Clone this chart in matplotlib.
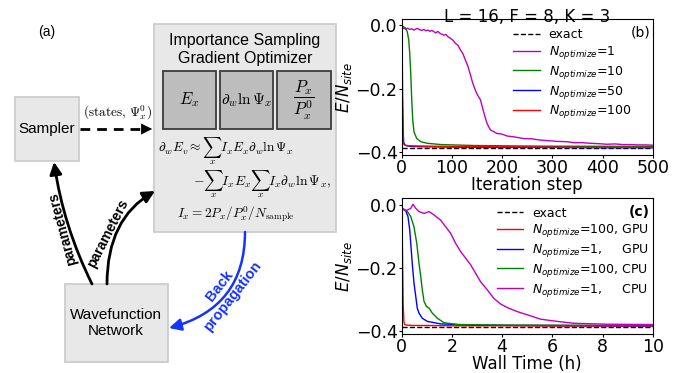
import matplotlib
matplotlib.use('Agg')
import matplotlib.pyplot as plt
from matplotlib.patches import Rectangle, FancyArrowPatch

# ---------------- data ----------------
exact_energy = -0.387

# panel (b): energy vs iteration step
b_iter_n1 = [0, 4, 8, 12, 16, 20, 24, 28, 32, 36, 40, 44, 48, 52, 56, 60, 64, 68, 72, 76, 80, 84, 88,
             92, 97, 102, 107, 112, 117, 122, 127, 132, 137, 141, 144, 148, 151, 154, 157, 160, 164,
             167, 170, 174, 177, 183, 190, 200, 210, 225, 243, 260, 277, 295, 310, 330, 343, 360,
             376, 390, 409, 425, 440, 455, 470, 485, 500]
b_e_n1 = [-0.004, -0.010, -0.012, -0.009, -0.013, -0.011, -0.015, -0.012, -0.010, -0.014, -0.016,
          -0.013, -0.017, -0.015, -0.019, -0.016, -0.020, -0.024, -0.019, -0.025, -0.028, -0.031,
          -0.029, -0.036, -0.041, -0.047, -0.057, -0.063, -0.078, -0.090, -0.110, -0.130, -0.157,
          -0.180, -0.194, -0.210, -0.220, -0.228, -0.236, -0.255, -0.278, -0.295, -0.310, -0.323,
          -0.331, -0.336, -0.342, -0.344, -0.350, -0.353, -0.358, -0.359, -0.363, -0.365, -0.367,
          -0.368, -0.371, -0.371, -0.373, -0.374, -0.376, -0.375, -0.377, -0.377, -0.378, -0.378,
          -0.379]
b_iter_n10 = [0, 1.3, 8, 11, 14, 16, 18, 20, 22, 24.5, 30, 38, 51, 78, 144, 277, 500]
b_e_n10 = [-0.002, -0.002, -0.009, -0.02, -0.046, -0.089, -0.152, -0.236, -0.3, -0.337, -0.358, -0.368,
           -0.373, -0.377, -0.380, -0.382, -0.383]
b_iter_n50 = [0, 1, 2, 3, 4, 6, 10, 20, 50, 100, 200, 300, 400, 500]
b_e_n50 = [-0.005, -0.1, -0.25, -0.34, -0.37, -0.378, -0.381, -0.383, -0.384, -0.385, -0.386, -0.386,
           -0.387, -0.387]
b_iter_n100 = [0, 1, 2, 3, 5, 10, 20, 50, 100, 200, 300, 400, 500]
b_e_n100 = [-0.01, -0.2, -0.33, -0.37, -0.378, -0.380, -0.381, -0.382, -0.383, -0.384, -0.385, -0.386,
            -0.386]

# panel (c): energy vs wall time (h)
c_t_gpu100 = [0, 0.03, 0.06, 0.09, 0.12, 0.2, 0.5, 1, 2, 4, 6, 8, 10]
c_e_gpu100 = [-0.005, -0.15, -0.32, -0.372, -0.38, -0.382, -0.383, -0.383, -0.384, -0.384, -0.385,
              -0.385, -0.385]
c_t_gpu1 = [0, 0.03, 0.16, 0.25, 0.32, 0.37, 0.42, 0.49, 0.56, 0.62, 0.69, 0.82, 1.02, 1.55, 2.88, 10]
c_e_gpu1 = [-0.01, -0.012, -0.019, -0.038, -0.08, -0.133, -0.186, -0.249, -0.291, -0.328, -0.344,
            -0.36, -0.37, -0.378, -0.382, -0.384]
c_t_cpu100 = [0, 0.03, 0.23, 0.36, 0.49, 0.6, 0.69, 0.76, 0.82, 0.89, 0.99, 1.09, 1.22, 1.42, 1.68,
              2.21, 4.2, 10]
c_e_cpu100 = [-0.01, -0.012, -0.022, -0.038, -0.07, -0.123, -0.186, -0.228, -0.27, -0.307, -0.323,
              -0.328, -0.344, -0.36, -0.374, -0.38, -0.382, -0.383]
c_t_cpu1 = [0, 0.03, 0.12, 0.23, 0.36, 0.45, 0.56, 0.69, 0.89, 1.09, 1.29, 1.55, 1.75, 1.95, 2.15,
            2.35, 2.55, 2.75, 2.94, 3.14, 3.41, 3.67, 3.94, 4.2, 4.6, 5.0, 5.53, 6.19, 6.86, 8.18, 10]
c_e_cpu1 = [-0.01, -0.012, -0.019, -0.017, -0.012, 0.001, -0.012, -0.022, -0.028, -0.022, -0.033,
            -0.049, -0.07, -0.091, -0.123, -0.149, -0.17, -0.191, -0.217, -0.244, -0.27, -0.297,
            -0.315, -0.326, -0.339, -0.349, -0.363, -0.37, -0.376, -0.379, -0.38]

b_xticks = [0, 100, 200, 300, 400, 500]
c_xticks = [0, 2, 4, 6, 8, 10]
yticks = [-0.4, -0.2, 0.0]

# ---------------- figure ----------------
W, H = 697, 373
fig = plt.figure(figsize=(W / 100, H / 100), dpi=100)

# diagram canvas in pixel coordinates
ax0 = fig.add_axes([0, 0, 1, 1], zorder=0)
ax0.set_xlim(0, W)
ax0.set_ylim(H, 0)
ax0.axis('off')

SANS = ['Liberation Sans', 'DejaVu Sans']
light_fc, light_ec = '#e8e8e8', '#cdcdcd'
dark_fc, dark_ec = '#bdbdbd', '#3c3c3c'
blue = '#1433ff'

ax0.add_patch(Rectangle((154, 24), 182, 208, fc=light_fc, ec=light_ec, lw=1.3))
ax0.add_patch(Rectangle((15, 97), 64, 64, fc=light_fc, ec=light_ec, lw=1.3))
ax0.add_patch(Rectangle((65, 284), 103, 78, fc=light_fc, ec=light_ec, lw=1.3))
for x0, w in [(163, 53), (220, 53), (277, 54)]:
    ax0.add_patch(Rectangle((x0, 71), w, 58, fc=dark_fc, ec=dark_ec, lw=1.3))

ax0.text(47, 32, '(a)', fontsize=10, family=SANS, ha='center', va='center')
ax0.text(245, 40, 'Importance Sampling', fontsize=11.5, family=SANS, ha='center', va='center')
ax0.text(245, 58, 'Gradient Optimizer', fontsize=11.5, family=SANS, ha='center', va='center')
ax0.text(189.5, 100, r'$E_x$', fontsize=12, math_fontfamily='cm', ha='center', va='center')
ax0.text(246.5, 100, r'$\partial_w\ln\Psi_x$', fontsize=11, math_fontfamily='cm', ha='center', va='center')
ax0.text(304, 100, r'$\dfrac{P_x}{P_x^0}$', fontsize=12, math_fontfamily='cm', ha='center', va='center')

ax0.text(158, 152, r'$\partial_w E_v \approx \sum_x I_x E_x \partial_w \ln\Psi_x$',
         fontsize=9.6, math_fontfamily='cm', ha='left', va='baseline')
ax0.text(193, 185, r'$-\sum_x I_x E_x \sum_x I_x \partial_w \ln\Psi_x,$',
         fontsize=9.8, math_fontfamily='cm', ha='left', va='baseline')
ax0.text(177, 218, r'$I_x = 2P_x/P_x^0/N_{\mathrm{sample}}$',
         fontsize=9.6, math_fontfamily='cm', ha='left', va='baseline')

ax0.text(47, 129, 'Sampler', fontsize=11, family=SANS, ha='center', va='center')
ax0.text(116, 323, 'Wavefunction\nNetwork', fontsize=11, family=SANS, ha='center', va='center',
         linespacing=1.25)

# dashed arrow sampler -> optimizer
ax0.plot([80, 146], [129, 129], color='k', lw=2, dashes=(3.5, 2.5))
ax0.add_patch(FancyArrowPatch((143, 129), (155, 129), arrowstyle='-|>,head_length=0.4,head_width=0.2',
                              mutation_scale=20, color='k', lw=0))
ax0.text(117, 113, r'$(\mathrm{states},\,\Psi_x^0)$', fontsize=9.5, math_fontfamily='cm',
         ha='center', va='center')

# parameters arrows
ax0.add_patch(FancyArrowPatch((92, 284), (54, 162), connectionstyle='arc3,rad=-0.08',
                              arrowstyle='-|>,head_length=0.4,head_width=0.2', mutation_scale=18,
                              color='k', lw=2, shrinkA=0, shrinkB=0))
ax0.add_patch(FancyArrowPatch((107, 284), (155, 191), connectionstyle='angle3,angleA=90,angleB=30',
                              arrowstyle='-|>,head_length=0.4,head_width=0.2', mutation_scale=18,
                              color='k', lw=2, shrinkA=0, shrinkB=0))
ax0.text(63, 229, 'parameters', fontsize=10, family=SANS, weight='bold', rotation=105,
         ha='center', va='center', rotation_mode='anchor')
ax0.text(107.5, 233, 'parameters', fontsize=10, family=SANS, weight='bold', rotation=63,
         ha='center', va='center', rotation_mode='anchor')

# back propagation arrow
ax0.add_patch(FancyArrowPatch((245, 232), (169, 328), connectionstyle='angle3,angleA=-90,angleB=15',
                              arrowstyle='-|>,head_length=0.4,head_width=0.2', mutation_scale=18,
                              color=blue, lw=1.8, shrinkA=0, shrinkB=0))
ax0.text(226, 291, 'Back\npropagation', fontsize=10.5, family=SANS, weight='bold', color=blue,
         rotation=52, ha='center', va='center', multialignment='center', linespacing=1.3,
         rotation_mode='anchor')

# ---------------- panels ----------------
def style_axes(ax, xticks):
    ax.set_ylim(-0.41, 0.02)
    ax.set_xticks(xticks)
    ax.set_yticks(yticks)
    ax.tick_params(labelsize=12.5, length=2.5, pad=0.5)
    ax.set_ylabel(r'$E/N_{site}$', fontsize=12, labelpad=1)

# panel (b)
axb = fig.add_axes([401.7 / W, 1 - 155 / H, 251 / W, 136 / H], zorder=1)
axb.plot([0, 500], [exact_energy, exact_energy], color='k', ls='--', lw=1, label='exact')
axb.plot(b_iter_n1, b_e_n1, color='m', lw=1, label=r'$N_{optimize}$=1')
axb.plot(b_iter_n10, b_e_n10, color='g', lw=1, label=r'$N_{optimize}$=10')
axb.plot(b_iter_n50, b_e_n50, color='b', lw=1, label=r'$N_{optimize}$=50')
axb.plot(b_iter_n100, b_e_n100, color='r', lw=1, label=r'$N_{optimize}$=100')
axb.set_xlim(0, 500)
style_axes(axb, b_xticks)
axb.set_xlabel('Iteration step', fontsize=12, labelpad=-0.5)
axb.set_title('L = 16, F = 8, K = 3', fontsize=12, y=1.0, pad=-2)
axb.legend(loc='upper left', bbox_to_anchor=(0.424, 0.968), borderaxespad=0, frameon=False,
           fontsize=9, handlelength=2.15, handletextpad=0.7, labelspacing=0.22)
axb.text(0.99, 0.9, '(b)', transform=axb.transAxes, fontsize=10, ha='right', va='center')

# panel (c)
axc = fig.add_axes([401.7 / W, 1 - 334 / H, 251 / W, 135.7 / H], zorder=1)
axc.plot([0, 10], [exact_energy, exact_energy], color='k', ls='--', lw=1, label='exact')
axc.plot(c_t_gpu100, c_e_gpu100, color='r', lw=1, label=r'$N_{optimize}$=100, GPU')
axc.plot(c_t_gpu1, c_e_gpu1, color='b', lw=1, label=r'$N_{optimize}$=1,     GPU')
axc.plot(c_t_cpu100, c_e_cpu100, color='g', lw=1, label=r'$N_{optimize}$=100, CPU')
axc.plot(c_t_cpu1, c_e_cpu1, color='m', lw=1, label=r'$N_{optimize}$=1,     CPU')
axc.set_xlim(0, 10)
style_axes(axc, c_xticks)
axc.set_xlabel('Wall Time (h)', fontsize=12, labelpad=-0.5)
axc.legend(loc='upper left', bbox_to_anchor=(0.36, 0.975), borderaxespad=0, frameon=False,
           fontsize=9, handlelength=2.1, handletextpad=0.7, labelspacing=0.22)
axc.text(0.99, 0.9, '(c)', transform=axc.transAxes, fontsize=10, weight='bold', ha='right', va='center')

fig.savefig('out.png', dpi=100)
